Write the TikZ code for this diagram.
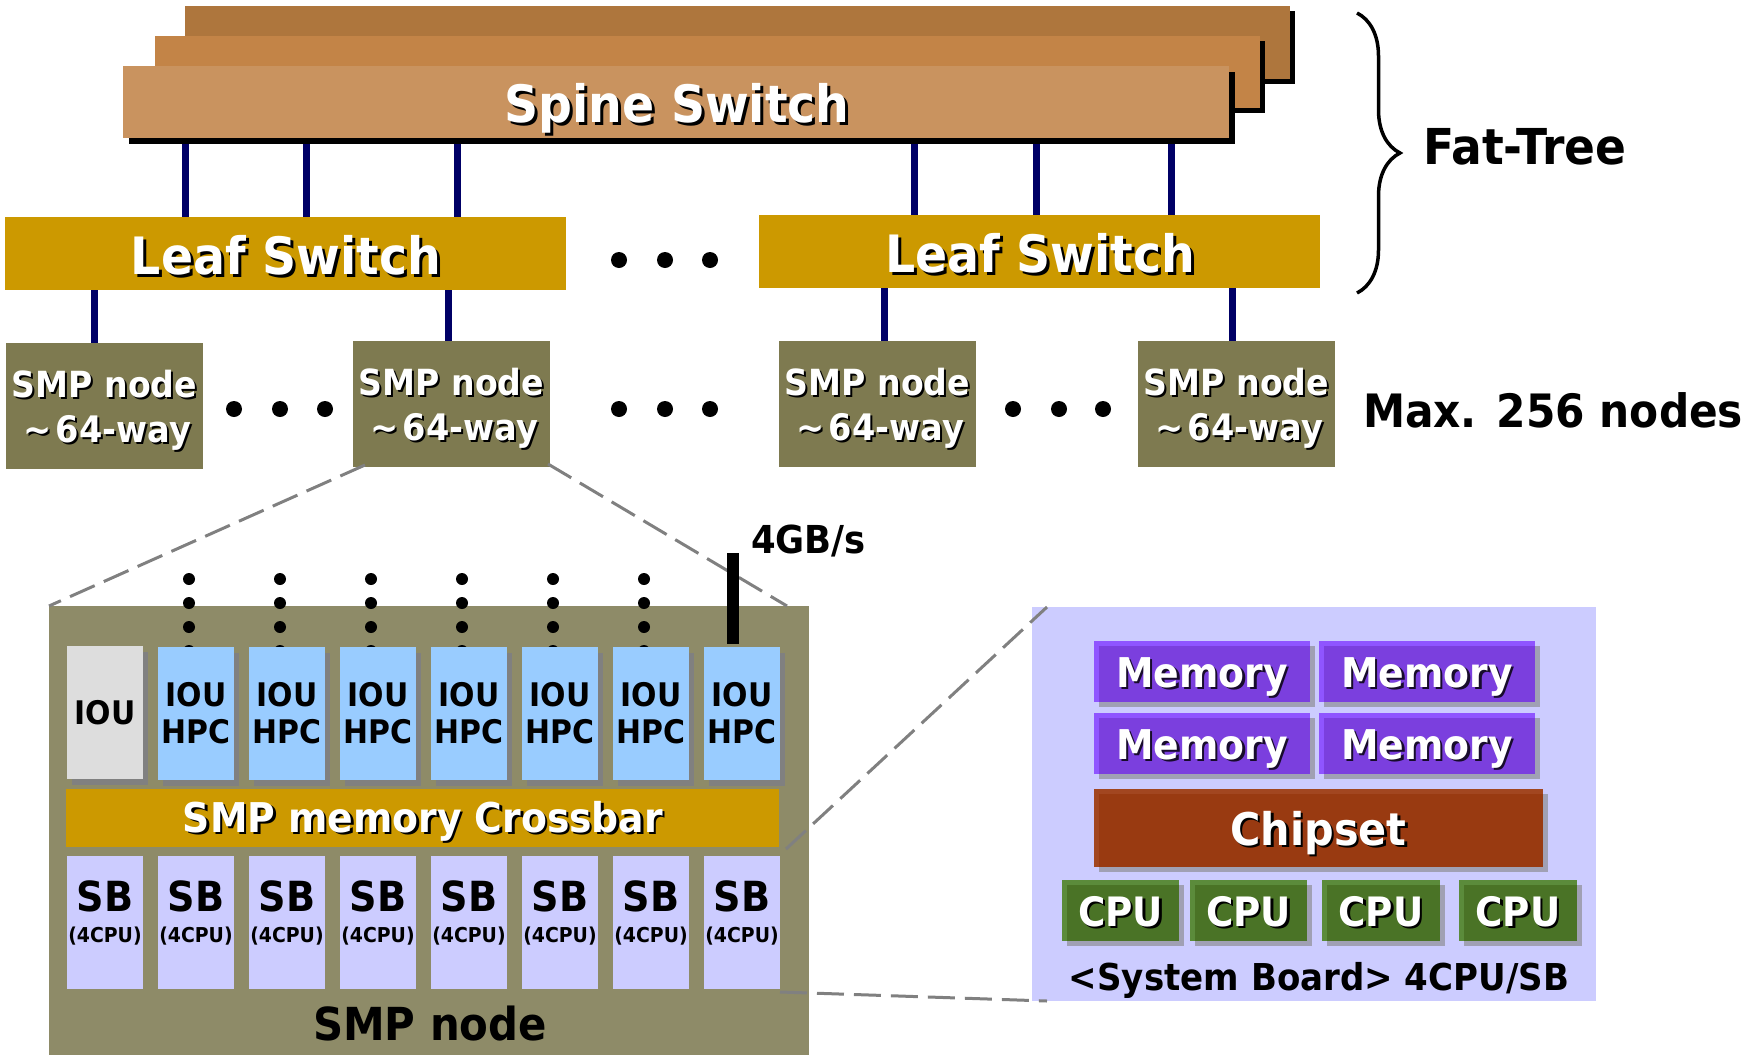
\documentclass[tikz,border=0pt]{standalone}
\usepackage{fontspec}
\setmainfont{DejaVu Sans}[FakeStretch=0.92]
\usetikzlibrary{calc,shadows,decorations.pathreplacing}
\pgfdeclarelayer{bg}
\pgfsetlayers{bg,main}
\definecolor{spA}{HTML}{AE763D}
\definecolor{spB}{HTML}{C38447}
\definecolor{spC}{HTML}{C9935F}
\definecolor{leafc}{HTML}{CC9900}
\definecolor{smpc}{HTML}{7E7A50}
\definecolor{navy}{HTML}{000066}
\definecolor{panelc}{HTML}{8E8B68}
\definecolor{iouc}{HTML}{DDDDDD}
\definecolor{hpcc}{HTML}{99CCFF}
\definecolor{shgray}{HTML}{808080}
\definecolor{lav}{HTML}{CCCCFF}
\definecolor{memlight}{HTML}{8F55FF}
\definecolor{memdark}{HTML}{7B3FDE}
\definecolor{boxsh}{HTML}{A0A0B4}
\definecolor{chiplight}{HTML}{A24620}
\definecolor{chipdark}{HTML}{993A11}
\definecolor{cpulight}{HTML}{5B8B3B}
\definecolor{cpudark}{HTML}{4A7326}
\definecolor{dashc}{HTML}{808080}
\newcommand\fsz[1]{\fontsize{#1}{#1}\selectfont}
\newcommand\shtxt[3]{\leavevmode\rlap{\kern#1\raisebox{-#1}{\color{#2}#3}}{\color{white}#3}}
\newcommand\bx[6]{\node[box,#6,minimum width={(#4-#2)*1pt},minimum height={(#5-#3)*1pt}] (#1) at ({(#2+#4)/2},{(#3+#5)/2}) {};}
\begin{document}
\begin{tikzpicture}[x=1pt,y=-1pt,font=\bfseries,
  box/.style={rectangle,inner sep=0pt,outer sep=0pt,draw=none},
  lbl/.style={inner sep=0pt,outer sep=0pt,anchor=base},
  blackshadow/.style={drop shadow={shadow xshift=#1pt,shadow yshift=-#1pt,fill=black,opacity=1}},
  grayshadow/.style={drop shadow={shadow xshift=5pt,shadow yshift=-6pt,fill=shgray,opacity=1}},
  softshadow/.style={drop shadow={shadow xshift=5pt,shadow yshift=-5pt,fill=boxsh,opacity=1}},
  link/.style={draw=navy,line width=7pt},
  zoomline/.style={draw=dashc,line width=3pt,dash pattern=on 27pt off 10pt},
  dot/.style={fill=black}]
\useasboundingbox (0,0) rectangle (1743,1055);

% ---- spine switches
\bx{spK}{185}{6}{1290}{79}{fill=spA,blackshadow=5}
\bx{spM}{155}{36}{1260}{108}{fill=spB,blackshadow=5}
\bx{spF}{123}{66}{1229}{138}{fill=spC,blackshadow=6}
\node[lbl] (spT) at (677,122) {\fsz{51.5}\shtxt{3pt}{black}{Spine Switch}};

% ---- leaf switches
\bx{lf1}{5}{217}{566}{290}{fill=leafc}
\bx{lf2}{759}{215}{1320}{288}{fill=leafc}
\node[lbl] (lf1T) at (286,274) {\fsz{51.5}\shtxt{3pt}{black}{Leaf Switch}};
\node[lbl] (lf2T) at (1040,272) {\fsz{51.5}\shtxt{3pt}{black}{Leaf Switch}};

% ---- SMP nodes
\bx{n1}{6}{343}{203}{469}{fill=smpc}
\bx{n2}{353}{341}{550}{467}{fill=smpc}
\bx{n3}{779}{341}{976}{467}{fill=smpc}
\bx{n4}{1138}{341}{1335}{467}{fill=smpc}
\foreach \n in {n1,n2,n3,n4}{
  \node[lbl] (\n a) at ($(\n.north)+(0,54)$) {\fsz{36}\shtxt{2pt}{black}{SMP node}};
  \node[lbl] (\n b) at ($(\n.north)+(3,99)$) {\fsz{36.5}\shtxt{2pt}{black}{\textasciitilde\kern4pt 64-way}};
}

% ---- connectors spine -> leaf, leaf -> SMP
\coordinate (u1) at (185,0); \coordinate (u2) at (306,0); \coordinate (u3) at (457,0);
\coordinate (u4) at (914,0); \coordinate (u5) at (1036,0); \coordinate (u6) at (1171,0);
\coordinate (d1) at (94,0); \coordinate (d2) at (448,0);
\coordinate (d3) at (884,0); \coordinate (d4) at (1232,0);
\begin{pgfonlayer}{bg}
\foreach \u in {u1,u2,u3}{\draw[link] (spF.south -| \u) -- (lf1.north -| \u);}
\foreach \u in {u4,u5,u6}{\draw[link] (spF.south -| \u) -- (lf2.north -| \u);}
\draw[link] (lf1.south -| d1) -- (n1.north -| d1);
\draw[link] (lf1.south -| d2) -- (n2.north -| d2);
\draw[link] (lf2.south -| d3) -- (n3.north -| d3);
\draw[link] (lf2.south -| d4) -- (n4.north -| d4);
\end{pgfonlayer}

% ---- ellipsis dots
\foreach \x in {619,665,710}{\fill[dot] (\x,260) circle (8pt);}
\foreach \x in {234,280,325,619,665,710,1013,1059,1103}{\fill[dot] (\x,409) circle (8pt);}

% ---- brace and right labels
\draw[decorate,decoration={brace,amplitude=43pt},line width=3.5pt] (1357,13) -- (1357,293);
\node[lbl,anchor=base west] (ftT) at (1423,164) {\fsz{49.5}Fat-Tree};
\node[lbl,anchor=base west] (maxT) at (1363,427) {\fsz{46}Max. 256 nodes};

% ---- zoomed SMP node
\bx{big}{49}{606}{809}{1055}{fill=panelc}
\draw[zoomline] ($(n2.south west)+(12,-2)$) -- (big.north west);
\draw[zoomline] ($(n2.south east)+(-2,-3)$) -- ($(big.north east)+(-22,0)$);
\foreach \k in {1,...,6}{
  \foreach \y in {579,603,627,651}{\fill[dot] ({98+91*\k},\y) circle (6pt);}
}
\foreach \k in {0,...,7}{
  \pgfmathtruncatemacro\xl{67+91*\k}
  \pgfmathtruncatemacro\xr{143+91*\k}
  \ifnum\k=0
    \bx{h\k}{\xl}{646}{\xr}{779}{fill=iouc,grayshadow}
    \node[lbl] (h\k a) at ($(h\k.north)+(0,78)$) {\fsz{32.5}IOU};
  \else
    \bx{h\k}{\xl}{647}{\xr}{780}{fill=hpcc,grayshadow}
    \node[lbl] (h\k a) at ($(h\k.north)+(0,59)$) {\fsz{32.5}IOU};
    \node[lbl] (h\k b) at ($(h\k.north)+(0,96.5)$) {\fsz{32.5}HPC};
  \fi
  \bx{sb\k}{\xl}{856}{\xr}{989}{fill=lav}
  \node[lbl] (sb\k a) at ($(sb\k.north)+(0,55)$) {\fsz{41.5}SB};
  \node[lbl] (sb\k b) at ($(sb\k.north)+(0,86)$) {\fsz{20.5}(4CPU)};
}
\bx{xbar}{66}{789}{779}{847}{fill=leafc}
\node[lbl] (xbarT) at (423,832) {\fsz{41}\shtxt{2.5pt}{black}{SMP memory Crossbar}};
\node[lbl] (bigT) at (430,1040) {\fsz{45.5}SMP node};
\coordinate (bartop) at (733,553);
\draw[line width=12pt] (bartop) -- ($(h7.north)+(-9,-3)$);
\node[lbl,anchor=base west] (bwT) at (751,553) {\fsz{38.5}4GB/s};

% ---- system board
\bx{sys}{1032}{607}{1596}{1001}{fill=lav}
\bx{m1}{1094}{641}{1310}{702}{fill=memlight,softshadow}
\bx{m2}{1319}{641}{1535}{702}{fill=memlight,softshadow}
\bx{m3}{1094}{713}{1310}{774}{fill=memlight,softshadow}
\bx{m4}{1319}{713}{1535}{774}{fill=memlight,softshadow}
\foreach \m in {m1,m2,m3,m4}{
  \fill[memdark] ($(\m.north west)+(5,5)$) rectangle (\m.south east);
  \node[lbl] (\m T) at ($(\m.north)+(0,46)$) {\fsz{41}\shtxt{2.5pt}{black!80!memdark}{Memory}};
}
\bx{chip}{1094}{789}{1543}{867}{fill=chiplight,softshadow}
\fill[chipdark] ($(chip.north west)+(5,5)$) rectangle (chip.south east);
\node[lbl] (chipT) at ($(chip.north)+(0,56)$) {\fsz{45}\shtxt{2.5pt}{black}{Chipset}};
\bx{c1}{1062}{880}{1179}{941}{fill=cpulight,softshadow}
\bx{c2}{1190}{880}{1307}{941}{fill=cpulight,softshadow}
\bx{c3}{1322}{880}{1440}{941}{fill=cpulight,softshadow}
\bx{c4}{1459}{880}{1577}{941}{fill=cpulight,softshadow}
\foreach \c in {c1,c2,c3,c4}{
  \fill[cpudark] ($(\c.north west)+(5,5)$) rectangle (\c.south east);
  \node[lbl] (\c T) at ($(\c.north)+(0,46)$) {\fsz{40.5}\shtxt{2.5pt}{black}{CPU}};
}
\node[lbl] (sysT) at (1319,990) {\fsz{37}<System Board> 4CPU/SB};

% ---- zoom lines to the system board
\draw[zoomline] ($(xbar.south east)+(7,2)$) -- ($(sys.north west)+(15,0)$);
\draw[zoomline] ($(sb7.south east)+(0,3)$) -- ($(sys.south west)+(15,0)$);
\end{tikzpicture}
\end{document}
